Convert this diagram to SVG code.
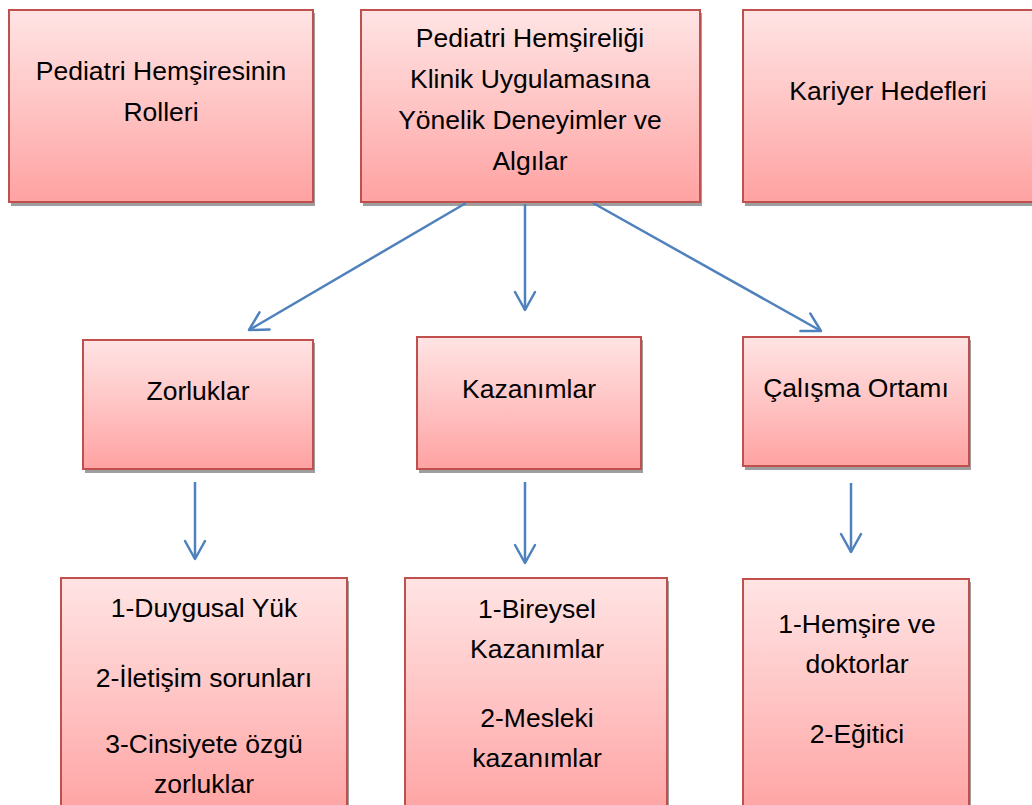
<svg xmlns="http://www.w3.org/2000/svg" width="1032" height="805" viewBox="0 0 1032 805">
<defs>
<linearGradient id="g" x1="0" y1="0" x2="0" y2="1">
<stop offset="0" stop-color="#FFE4E4"/>
<stop offset="0.5" stop-color="#FFC4C4"/>
<stop offset="1" stop-color="#FFA2A2"/>
</linearGradient>
<marker id="ah" viewBox="-22 -12 24 24" markerWidth="24" markerHeight="24" refX="0" refY="0" orient="auto" markerUnits="userSpaceOnUse">
<path d="M-18,-10 L0,0 L-18,10" fill="none" stroke="#4F81BD" stroke-width="2.5" stroke-linecap="round" stroke-linejoin="round"/>
</marker>
</defs>
<style>
.sh{fill:#9E9E9E}
.bx{fill:url(#g);stroke:#C0504D;stroke-width:2}
.t{font-family:"Liberation Sans",Arial,sans-serif;font-size:26.5px;fill:#000;text-anchor:middle}
.c{fill:none;stroke:#4F81BD;stroke-width:2.5;marker-end:url(#ah)}
</style>
<rect width="1032" height="805" fill="#fff"/>
<g id="n1">
<rect class="sh" x="11" y="13" width="304" height="193"/>
<rect class="bx" x="9" y="10" width="304" height="192"/>
<text class="t" x="161" y="80">Pediatri Hemşiresinin</text>
<text class="t" x="161" y="121">Rolleri</text>
</g>
<g id="n2">
<rect class="sh" x="363" y="13" width="339" height="193"/>
<rect class="bx" x="361" y="10" width="339" height="192"/>
<text class="t" x="530" y="47">Pediatri Hemşireliği</text>
<text class="t" x="530" y="88">Klinik Uygulamasına</text>
<text class="t" x="530" y="129">Yönelik Deneyimler ve</text>
<text class="t" x="530" y="170">Algılar</text>
</g>
<g id="n3">
<rect class="sh" x="745" y="13" width="290" height="193"/>
<rect class="bx" x="743" y="10" width="290" height="192"/>
<text class="t" x="888" y="100">Kariyer Hedefleri</text>
</g>
<g id="n4">
<rect class="sh" x="85" y="343" width="230" height="130"/>
<rect class="bx" x="83" y="340" width="230" height="129"/>
<text class="t" x="198" y="400">Zorluklar</text>
</g>
<g id="n5">
<rect class="sh" x="419" y="340" width="224" height="133"/>
<rect class="bx" x="417" y="337" width="224" height="132"/>
<text class="t" x="529" y="398">Kazanımlar</text>
</g>
<g id="n6">
<rect class="sh" x="745" y="340" width="226" height="130"/>
<rect class="bx" x="743" y="337" width="226" height="129"/>
<text class="t" x="856" y="397">Çalışma Ortamı</text>
</g>
<g id="n7">
<rect class="sh" x="63" y="581" width="286" height="240"/>
<rect class="bx" x="61" y="578" width="286" height="240"/>
<text class="t" x="204" y="617">1-Duygusal Yük</text>
<text class="t" x="204" y="687">2-İletişim sorunları</text>
<text class="t" x="204" y="753">3-Cinsiyete özgü</text>
<text class="t" x="204" y="793">zorluklar</text>
</g>
<g id="n8">
<rect class="sh" x="407" y="581" width="262" height="240"/>
<rect class="bx" x="405" y="578" width="262" height="240"/>
<text class="t" x="537" y="618">1-Bireysel</text>
<text class="t" x="537" y="658">Kazanımlar</text>
<text class="t" x="537" y="727">2-Mesleki</text>
<text class="t" x="537" y="767">kazanımlar</text>
</g>
<g id="n9">
<rect class="sh" x="745" y="582" width="226" height="240"/>
<rect class="bx" x="743" y="579" width="226" height="240"/>
<text class="t" x="857" y="633">1-Hemşire ve</text>
<text class="t" x="857" y="673">doktorlar</text>
<text class="t" x="857" y="743">2-Eğitici</text>
</g>
<g id="connectors">
<line class="c" x1="466" y1="203" x2="249" y2="330"/>
<line class="c" x1="525" y1="204" x2="525" y2="310"/>
<line class="c" x1="593" y1="203" x2="821" y2="331"/>
<line class="c" x1="195" y1="482" x2="195" y2="559"/>
<line class="c" x1="525" y1="482" x2="525" y2="563"/>
<line class="c" x1="851" y1="483" x2="851" y2="552"/>
</g>
</svg>
